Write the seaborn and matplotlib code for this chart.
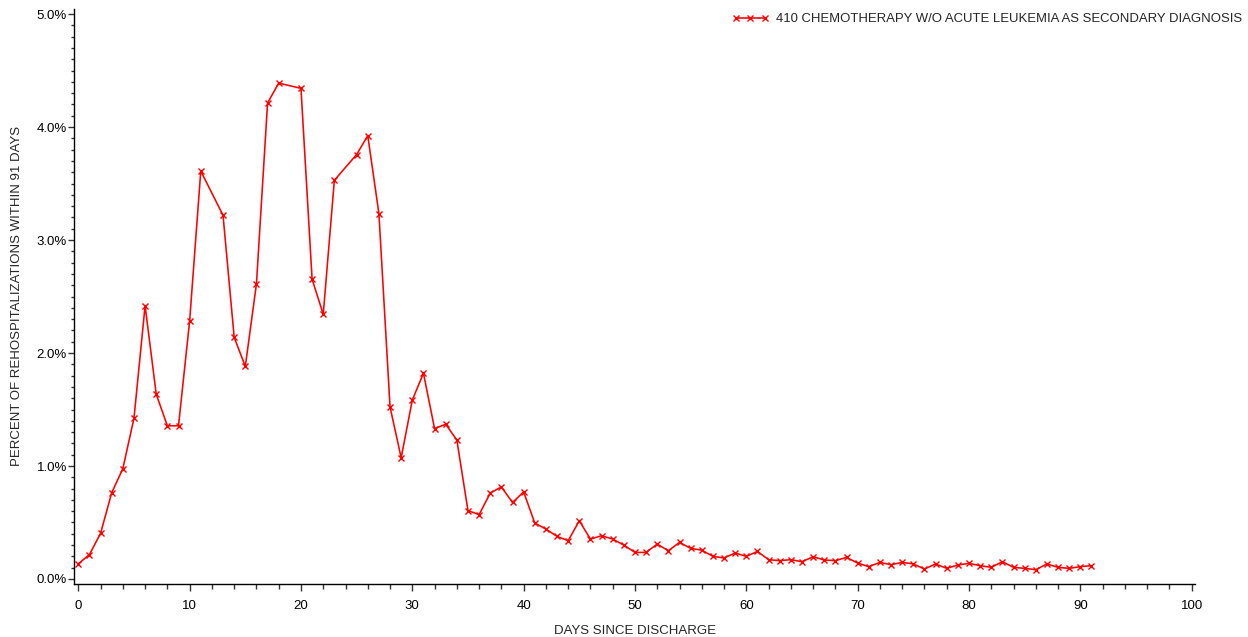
import matplotlib
matplotlib.use("Agg")
import matplotlib.pyplot as plt
import seaborn as sns
import pandas as pd
import numpy as np
from matplotlib.ticker import MultipleLocator, FuncFormatter

days = [0, 1, 2, 3, 4, 5, 6, 7, 8, 9, 10, 11, 13, 14, 15, 16, 17, 18, 20,
        21, 22, 23, 25, 26, 27, 28, 29, 30, 31, 32, 33, 34, 35, 36, 37, 38,
        39, 40, 41, 42, 43, 44, 45, 46, 47, 48, 49, 50, 51, 52, 53, 54, 55,
        56, 57, 58, 59, 60, 61, 62, 63, 64, 65, 66, 67, 68, 69, 70, 71, 72,
        73, 74, 75, 76, 77, 78, 79, 80, 81, 82, 83, 84, 85, 86, 87, 88, 89,
        90, 91]
percent = [0.134, 0.216, 0.404, 0.763, 0.976, 1.422, 2.419, 1.635, 1.356,
           1.356, 2.283, 3.611, 3.219, 2.140, 1.881, 2.611, 4.213, 4.389,
           4.343, 2.653, 2.343, 3.529, 3.757, 3.924, 3.234, 1.523, 1.073,
           1.584, 1.821, 1.331, 1.370, 1.230, 0.605, 0.570, 0.760, 0.815,
           0.677, 0.771, 0.495, 0.442, 0.377, 0.339, 0.515, 0.353, 0.383,
           0.353, 0.300, 0.235, 0.235, 0.309, 0.250, 0.324, 0.271, 0.255,
           0.200, 0.186, 0.230, 0.200, 0.244, 0.171, 0.162, 0.171, 0.153,
           0.197, 0.168, 0.162, 0.191, 0.141, 0.109, 0.147, 0.126, 0.147,
           0.133, 0.088, 0.133, 0.094, 0.124, 0.138, 0.118, 0.103, 0.153,
           0.103, 0.094, 0.082, 0.133, 0.103, 0.094, 0.109, 0.118]
series_name = "410 CHEMOTHERAPY W/O ACUTE LEUKEMIA AS SECONDARY DIAGNOSIS"
x_label = "DAYS SINCE DISCHARGE"
y_label = "PERCENT OF REHOSPITALIZATIONS WITHIN 91 DAYS"

df = pd.DataFrame({"day": days, "pct": percent, "series": series_name})

sns.set_style("white")
plt.rcParams["font.family"] = ["Liberation Sans", "DejaVu Sans"]

fig = plt.figure(figsize=(12.48, 6.37), dpi=100)
W, H = 1248, 637
ax = fig.add_axes([74 / W, (H - 583.5) / H, (1195 - 74) / W, (583.5 - 9) / H])

sns.lineplot(data=df, x="day", y="pct", hue="series", palette=["#ff0000"],
             marker="x", markersize=5, markeredgewidth=1.0,
             markeredgecolor="#ff0000", linewidth=1.15,
             ax=ax, legend=True)

ax.set_xlim(-0.386, 100.3)
ax.set_ylim(-0.04, 5.045)
ax.xaxis.set_major_locator(MultipleLocator(10))
ax.xaxis.set_minor_locator(MultipleLocator(2))
ax.yaxis.set_major_locator(MultipleLocator(1))
ax.yaxis.set_minor_locator(MultipleLocator(0.1))
ax.yaxis.set_major_formatter(FuncFormatter(lambda v, p: f"{v:.1f}%"))

for s in ["top", "right"]:
    ax.spines[s].set_visible(False)
for s in ["left", "bottom"]:
    ax.spines[s].set_color("#000000")
    ax.spines[s].set_linewidth(1.0)

ax.tick_params(axis="both", which="both", bottom=True, left=True,
               direction="out", width=1, color="#333333")
ax.tick_params(axis="x", which="major", length=5, pad=7,
               labelsize=9.5, labelcolor="#000000")
ax.tick_params(axis="x", which="minor", length=3.5)
ax.tick_params(axis="y", which="major", length=4.2, pad=0.8,
               labelsize=9.5, labelcolor="#000000")
ax.tick_params(axis="y", which="minor", length=2)

ax.set_xlabel(x_label, fontsize=9.5, labelpad=9.5)
ax.set_ylabel(y_label, fontsize=9.5, labelpad=9.5)
ax.grid(False)

leg = ax.legend(loc="upper right", bbox_to_anchor=(1242 / W, 1 - 13 / H),
                bbox_transform=fig.transFigure, numpoints=3,
                frameon=False, fontsize=9.45, handlelength=2.8, handletextpad=0.55,
                borderaxespad=0, borderpad=0, markerscale=1.0)

fig.savefig("out.png", dpi=100, facecolor="white")
